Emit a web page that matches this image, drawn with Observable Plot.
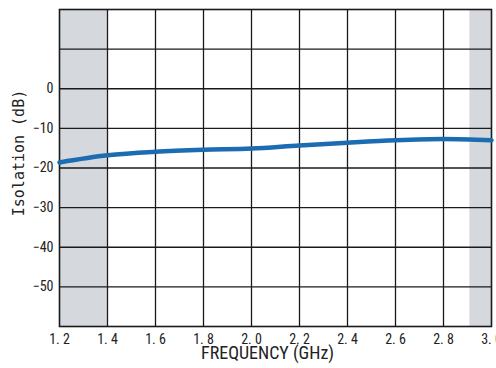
<!DOCTYPE html>
<html><head><meta charset="utf-8">
<script src="https://cdn.jsdelivr.net/npm/d3@7"></script>
<script src="https://cdn.jsdelivr.net/npm/@observablehq/plot@0.6"></script>
<style>
body{margin:0;background:#fff;}
#chart svg{display:block;}
</style>
</head><body><div id="chart"></div>
<script>
const freq = [1.2, 1.4, 1.6, 1.8, 2.0, 2.2, 2.4, 2.6, 2.8, 3.0];
const isolation = [-18.6, -16.8, -15.9, -15.4, -15.1, -14.3, -13.6, -13.0, -12.7, -13.0];
const shadeBands = [[1.2, 1.4], [2.91, 3.0]];
const xTicks = [1.2, 1.4, 1.6, 1.8, 2.0, 2.2, 2.4, 2.6, 2.8, 3.0];
const yTicks = [0, -10, -20, -30, -40, -50];
const yGrid = [10, 0, -10, -20, -30, -40, -50];
const xGrid = [1.4, 1.6, 1.8, 2.0, 2.2, 2.4, 2.6, 2.8];
const xLabel = "FREQUENCY (GHz)";
const yLabel = "Isolation (dB)";

const data = freq.map((f, i) => ({f, v: isolation[i]}));
const bands = shadeBands.map(([a, b]) => ({a, b}));
const font = "'Liberation Sans Narrow', 'Roboto Condensed', 'Arial Narrow', sans-serif";
const fmtX = d => d.toFixed(1).replace(".", ". ");
const fmtY = d => d === 0 ? "0" : "\u2212" + Math.abs(d);

const chart = Plot.plot({
  width: 496, height: 368,
  marginLeft: 59, marginRight: 5, marginTop: 9, marginBottom: 42,
  style: {fontFamily: font, color: "#222", background: "#fff"},
  x: {domain: [1.2, 3.0], axis: null},
  y: {domain: [-60, 20], axis: null},
  marks: [
    Plot.rectY(bands, {x1: "a", x2: "b", y1: -60, y2: 20, fill: "#d5d8dd"}),
    Plot.ruleX(xGrid, {stroke: "#1a1a1a", strokeWidth: 1.3}),
    Plot.ruleY(yGrid, {stroke: "#1a1a1a", strokeWidth: 1.3}),
    Plot.frame({stroke: "#1a1a1a", strokeWidth: 1.6}),
    Plot.line(data, {x: "f", y: "v", stroke: "#1b6cb0", strokeWidth: 4.5, curve: "monotone-x"}),
    Plot.text(xTicks, {x: d => d, y: -60, dy: 13, text: fmtX, fontSize: 14, fill: "#222"}),
    Plot.text(yTicks, {x: 1.2, y: d => d, dx: -6, textAnchor: "end", text: fmtY, fontSize: 14, fill: "#222"}),
    Plot.text([xLabel], {frameAnchor: "bottom", dx: -8, dy: 32, text: d => d, fontSize: 18, fill: "#222"}),
    Plot.text([yLabel], {frameAnchor: "left", textAnchor: "middle", dx: -40, dy: -15, rotate: -90, fontSize: 15, fontFamily: "'DejaVu Sans Mono', monospace", fill: "#222", text: d => d})
  ]
});
document.getElementById("chart").appendChild(chart);
</script>
</body></html>
